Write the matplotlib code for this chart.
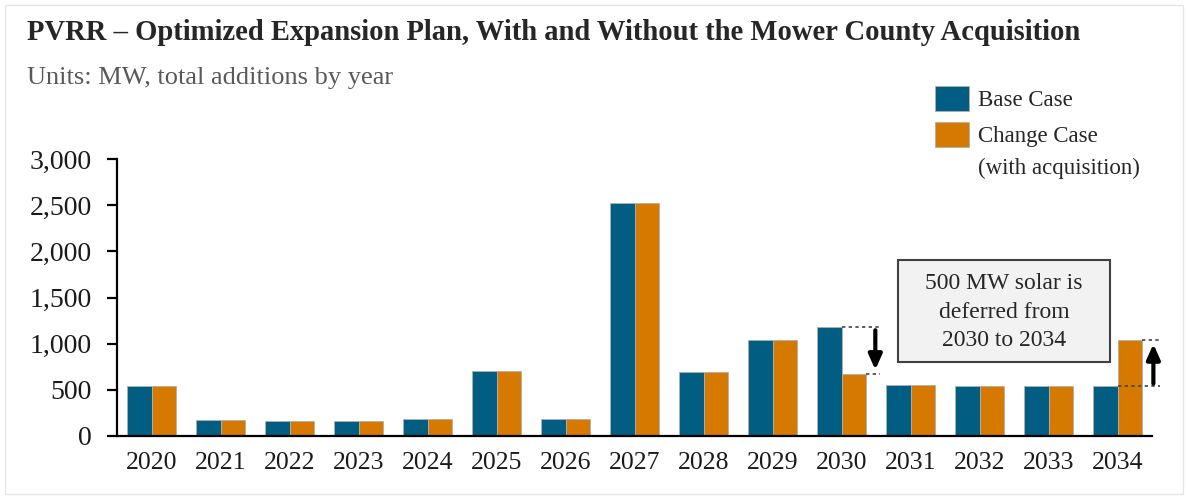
import matplotlib
matplotlib.use("Agg")
import matplotlib.pyplot as plt
from matplotlib.patches import Rectangle, Patch
import numpy as np

years = ["2020", "2021", "2022", "2023", "2024", "2025", "2026", "2027",
         "2028", "2029", "2030", "2031", "2032", "2033", "2034"]
base_case = [540, 170, 160, 160, 185, 700, 185, 2525, 690, 1040, 1175, 545, 540, 540, 535]
change_case = [540, 170, 160, 160, 185, 700, 185, 2525, 690, 1040, 675, 545, 540, 540, 1035]
yticks = [0, 500, 1000, 1500, 2000, 2500, 3000]

title = "PVRR \u2013 Optimized Expansion Plan, With and Without the Mower County Acquisition"
subtitle = "Units: MW, total additions by year"
note = "500 MW solar is\ndeferred from\n2030 to 2034"
legend_labels = ["Base Case", "Change Case"]
legend_sub = "(with acquisition)"

BLUE = "#015E82"
ORANGE = "#D67900"
SERIF = ["Liberation Serif", "DejaVu Serif"]
plt.rcParams["font.family"] = SERIF

fig = plt.figure(figsize=(11.88, 4.97), dpi=100)
ax = fig.add_axes([117/1188, 61.3/497, (1152-117)/1188, (435.7-159.3)/497])

x = np.arange(len(years))
w = 0.355
ax.bar(x - w/2, base_case, w, color=BLUE, edgecolor="#b0b0b0", linewidth=0.6)
ax.bar(x + w/2, change_case, w, color=ORANGE, edgecolor="#b0b0b0", linewidth=0.6)

ax.set_xlim(-0.5, len(years) - 0.5)
ax.set_ylim(0, 3000)
ax.set_yticks(yticks)
ax.set_yticklabels([f"{v:,}" for v in yticks])
ax.set_xticks(x)
ax.set_xticklabels(years)
for s in ["top", "right"]:
    ax.spines[s].set_visible(False)
for s in ["left", "bottom"]:
    ax.spines[s].set_linewidth(1.6)
    ax.spines[s].set_color("black")
ax.tick_params(axis="y", length=7, width=1.6, labelsize=20, pad=11, colors="black")
ax.tick_params(axis="x", length=0, labelsize=18.5, pad=12)
for lab in ax.get_yticklabels() + ax.get_xticklabels():
    lab.set_color("#1a1a1a")

# deferral annotations
i30 = years.index("2030")
i34 = years.index("2034")
dash = dict(color="#444444", linestyle=(0, (2, 2)), linewidth=1.2, clip_on=False)
arrow = dict(arrowstyle="-|>,head_width=0.4,head_length=0.9", color="black", lw=3.0)
ax.plot([i30, i30 + 0.56], [base_case[i30]] * 2, **dash)
ax.plot([i30 + w, i30 + 0.56], [change_case[i30]] * 2, **dash)
ax.annotate("", xy=(i30 + 0.49, change_case[i30] + 10), xytext=(i30 + 0.49, base_case[i30]),
            arrowprops=arrow, annotation_clip=False)
ax.plot([i34 + w, i34 + 0.62], [change_case[i34]] * 2, **dash)
ax.plot([i34, i34 + 0.62], [base_case[i34]] * 2, **dash)
ax.annotate("", xy=(i34 + 0.52, change_case[i34] - 10), xytext=(i34 + 0.52, base_case[i34]),
            arrowprops=arrow, annotation_clip=False)

# note box
fig.patches.append(Rectangle((898/1188, 1 - 362/497), 212/1188, 102/497, transform=fig.transFigure,
                             facecolor="#f2f2f2", edgecolor="#404040", linewidth=1.5))
fig.text(1004/1188, 1 - 312/497, note, ha="center", va="center", fontsize=17,
         color="#262626", linespacing=1.45)

# legend
handles = [Patch(facecolor=BLUE, edgecolor="#b0b0b0", linewidth=0.6),
           Patch(facecolor=ORANGE, edgecolor="#b0b0b0", linewidth=0.6)]
leg = fig.legend(handles, legend_labels,
                 loc="upper left", bbox_to_anchor=(935/1188, 1 - 86/497), frameon=False,
                 fontsize=16.5, handlelength=1.48, handleheight=1.27, handletextpad=0.4,
                 labelspacing=0.5, borderaxespad=0, borderpad=0)
for t in leg.get_texts():
    t.set_color("#262626")
fig.text(978/1188, 1 - 168/497, legend_sub, ha="left", va="center", fontsize=16.5, color="#262626")

fig.text(27/1188, 1 - 32/497, title, ha="left", va="center", fontsize=20.6, fontweight="bold",
         color="#262626")
fig.text(27/1188, 1 - 78/497, subtitle, ha="left", va="center", fontsize=19, color="#595959")

# outer frame
fig.patches.append(Rectangle((5/1188, 3/497), 1 - 10/1188, 1 - 8/497, transform=fig.transFigure,
                             facecolor="none", edgecolor="#e6e6e6", linewidth=1.0))

fig.savefig("out.png", dpi=100)
